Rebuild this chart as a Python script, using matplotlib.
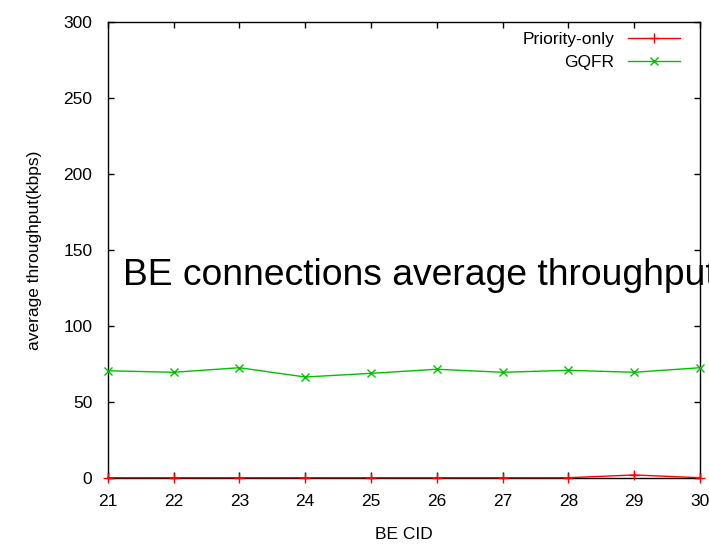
import matplotlib
matplotlib.use("Agg")
import matplotlib.pyplot as plt

plt.rcParams['font.family'] = ['Liberation Sans', 'DejaVu Sans']

cid = [21, 22, 23, 24, 25, 26, 27, 28, 29, 30]
priority_only = [0, 0, 0, 0, 0, 0, 0, 0, 1.8, 0]
gqfr = [70.4, 69.4, 72.4, 66.3, 68.7, 71.4, 69.4, 70.7, 69.4, 72.4]
xticks = list(range(21, 31))
yticks = [0, 50, 100, 150, 200, 250, 300]
title_text = "BE connections average throughput"

fig = plt.figure(figsize=(7.09, 5.48), dpi=100)
ax = fig.add_axes([107.7 / 709, 70.3 / 548, (700 - 107.7) / 709, (477.7 - 22) / 548])

ax.plot(cid, priority_only, color='#ff0000', lw=1, marker='+', ms=7, mew=1,
        label='Priority-only', clip_on=False, zorder=3)
ax.plot(cid, gqfr, color='#00c000', lw=1, marker='x', ms=5.5, mew=1,
        label='GQFR', clip_on=False, zorder=3)

ax.set_xlim(21, 30)
ax.set_ylim(0, 300)
ax.set_xticks(xticks)
ax.set_yticks(yticks)
ax.tick_params(direction='in', length=4, width=1, top=True, right=True,
               labelsize=12.5, colors='black', pad=12)
ax.tick_params(axis='y', pad=11)
for s in ax.spines.values():
    s.set_linewidth(1)
    s.set_color('black')

ax.set_xlabel('BE CID', fontsize=12.5, labelpad=13)
ax.set_ylabel('average throughput(kbps)', fontsize=12.5, labelpad=15)

ax.text(21.23, 126.9, title_text, fontsize=26.8, ha='left', va='baseline', clip_on=False)

leg = ax.legend(loc='upper right', bbox_to_anchor=(0.967, 0.978), frameon=False,
                markerfirst=False, fontsize=12.5, handlelength=3.0,
                handletextpad=0.8, labelspacing=0.45, borderpad=0, borderaxespad=0)

fig.savefig('out.png', dpi=100)
